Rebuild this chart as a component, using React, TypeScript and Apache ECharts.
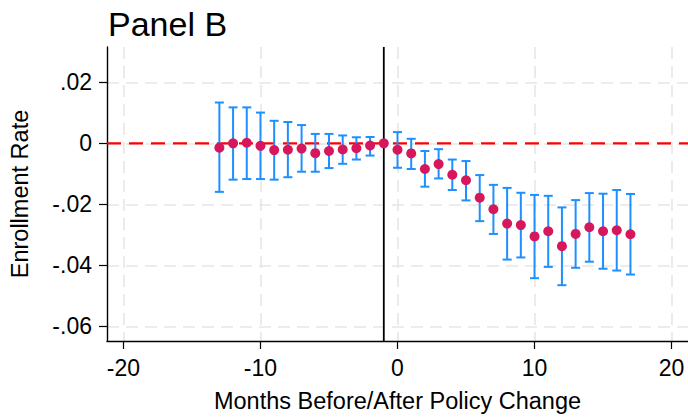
import React, { useEffect, useRef } from "react";
import * as echarts from "echarts";

const months = [-13, -12, -11, -10, -9, -8, -7, -6, -5, -4, -3, -2, -1, 0, 1, 2, 3, 4, 5, 6, 7, 8, 9, 10, 11, 12, 13, 14, 15, 16, 17];
const estimates = [-0.0014, 0.0, 0.0002, -0.0008, -0.0022, -0.0021, -0.0017, -0.0032, -0.0025, -0.002, -0.0016, -0.0007, 0.0, -0.0021, -0.0033, -0.0084, -0.0068, -0.0103, -0.0121, -0.0178, -0.0216, -0.0263, -0.0268, -0.0305, -0.0288, -0.0337, -0.0297, -0.0275, -0.0288, -0.0285, -0.0298];
const ciLow: (number | null)[] = [-0.0159, -0.0119, -0.0117, -0.0117, -0.0119, -0.0111, -0.0093, -0.0093, -0.0081, -0.0067, -0.0053, -0.004, null, -0.008, -0.0084, -0.0142, -0.0115, -0.0153, -0.0187, -0.0255, -0.0297, -0.0381, -0.0374, -0.0442, -0.0405, -0.0465, -0.0408, -0.0388, -0.0411, -0.0417, -0.043];
const ciHigh: (number | null)[] = [0.0134, 0.0118, 0.0118, 0.0101, 0.0074, 0.007, 0.006, 0.0031, 0.0031, 0.0026, 0.002, 0.0021, null, 0.0037, 0.0015, -0.0025, -0.0019, -0.0053, -0.0058, -0.0104, -0.0136, -0.0146, -0.0162, -0.0169, -0.0172, -0.021, -0.0186, -0.0163, -0.0165, -0.0153, -0.0166];

const xTicks = [-20, -10, 0, 10, 20];
const yTicks = [-0.06, -0.04, -0.02, 0, 0.02];
const yTickLabels = ["-.06", "-.04", "-.02", "0", ".02"];
const referenceMonth = -1;
const xRange = [-21.2, 21.2];
const yRange = [-0.0648, 0.0316];

const FONT = "'Liberation Sans', Arial, Helvetica, sans-serif";

export default function App() {
  const ref = useRef<HTMLDivElement>(null);
  useEffect(() => {
    document.body.style.margin = "0";
    const chart = echarts.init(ref.current!, null, { renderer: "svg" });
    const ciData = months
      .map((m, i) => [m, ciLow[i], ciHigh[i]])
      .filter((d) => d[1] !== null && d[2] !== null);
    const pointData = months.map((m, i) => [m, estimates[i]]);
    const gridLine = { show: true, lineStyle: { color: "#e6e6e6", width: 1.6, type: [12, 7] as any } };
    chart.setOption({
      animation: false,
      backgroundColor: "#ffffff",
      title: {
        text: "Panel B",
        left: 103,
        top: 2,
        textStyle: { fontSize: 34, fontWeight: "normal", color: "#000", fontFamily: FONT },
      },
      grid: { left: 104, right: 0, top: 47, bottom: 70 },
      xAxis: {
        type: "value",
        min: xRange[0],
        max: xRange[1],
        name: "Months Before/After Policy Change",
        nameLocation: "middle",
        nameGap: 48,
        nameTextStyle: { fontSize: 23.5, color: "#000", fontFamily: FONT },
        axisLine: { show: true, onZero: false, lineStyle: { color: "#000", width: 1.4 } },
        axisTick: { show: true, length: 8, customValues: xTicks, lineStyle: { color: "#000", width: 1.2 } },
        axisLabel: { customValues: xTicks, fontSize: 23, color: "#000", fontFamily: FONT, margin: 15, formatter: (v: number) => String(v) },
        splitLine: gridLine,
      },
      yAxis: {
        type: "value",
        min: yRange[0],
        max: yRange[1],
        name: "Enrollment Rate",
        nameLocation: "middle",
        nameGap: 75,
        nameTextStyle: { fontSize: 23.5, color: "#000", fontFamily: FONT },
        axisLine: { show: true, onZero: false, lineStyle: { color: "#000", width: 1.4 } },
        axisTick: { show: true, length: 8, customValues: yTicks, lineStyle: { color: "#000", width: 1.2 } },
        axisLabel: {
          customValues: yTicks,
          fontSize: 23,
          color: "#000",
          fontFamily: FONT,
          margin: 15,
          formatter: (v: number) => {
            const idx = yTicks.findIndex((t) => Math.abs(t - v) < 1e-9);
            return idx >= 0 ? yTickLabels[idx] : "";
          },
        },
        splitLine: gridLine,
      },
      series: [
        {
          type: "line",
          z: 1,
          silent: true,
          symbol: "none",
          data: [[xRange[0], 0], [xRange[1], 0]],
          lineStyle: { color: "#ff0000", width: 2.2, type: [14, 8] as any },
        },
        {
          type: "line",
          z: 1,
          silent: true,
          symbol: "none",
          data: [[referenceMonth, yRange[0]], [referenceMonth, yRange[1]]],
          lineStyle: { color: "#000000", width: 1.8 },
        },
        {
          type: "custom",
          z: 2,
          silent: true,
          data: ciData,
          encode: { x: 0, y: [1, 2] },
          renderItem: (params: any, api: any) => {
            const x = api.value(0);
            const lo = api.coord([x, api.value(1)]);
            const hi = api.coord([x, api.value(2)]);
            const hw = 4.5;
            const style = { stroke: "#1e8fff", lineWidth: 2 };
            return {
              type: "group",
              children: [
                { type: "line", shape: { x1: lo[0], y1: lo[1], x2: hi[0], y2: hi[1] }, style },
                { type: "line", shape: { x1: lo[0] - hw, y1: lo[1], x2: lo[0] + hw, y2: lo[1] }, style },
                { type: "line", shape: { x1: hi[0] - hw, y1: hi[1], x2: hi[0] + hw, y2: hi[1] }, style },
              ],
            };
          },
        },
        {
          type: "scatter",
          z: 3,
          symbol: "circle",
          symbolSize: 10,
          data: pointData,
          itemStyle: { color: "#d6175c", opacity: 1 },
        },
      ],
    });
    return () => chart.dispose();
  }, []);
  return <div ref={ref} style={{ position: "fixed", left: 0, top: 0, width: 688, height: 418 }} />;
}
